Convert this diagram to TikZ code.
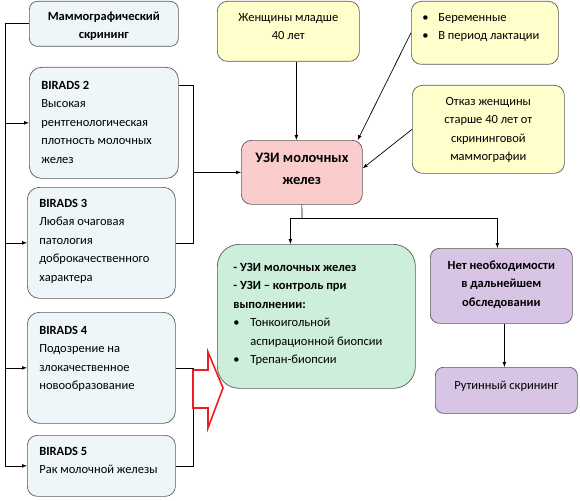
\documentclass[tikz,border=0pt]{standalone}
\usepackage{fontspec}
\setmainfont{Carlito}

\definecolor{screenfill}{RGB}{238,246,249}
\definecolor{womenfill}{RGB}{255,255,204}
\definecolor{uzifill}{RGB}{250,204,204}
\definecolor{biopsyfill}{RGB}{204,238,218}
\definecolor{resultfill}{RGB}{216,196,228}
\definecolor{boxline}{RGB}{90,90,90}
\definecolor{arrowred}{RGB}{235,30,35}

% width, height, top gap, alignment, text
\newcommand{\boxtext}[5]{\parbox[c][#2][t]{#1}{#4\vspace*{#3}\strut #5}}

\tikzset{ every node/.style={draw=boxline, line width=0.7pt, inner ysep=0pt, inner xsep=12pt, anchor=north west, font=\fontsize{12.5}{18.5}\selectfont},
  screenbox/.style={fill=screenfill, rounded corners=12pt},
  womenbox/.style={fill=womenfill, rounded corners=10pt},
  uzibox/.style={fill=uzifill, rounded corners=10pt},
  biopsybox/.style={fill=biopsyfill, rounded corners=22pt},
  resultbox/.style={fill=resultfill, rounded corners=9pt},
  redarrow/.style={draw=arrowred, line width=1.6pt, fill=white} }

\begin{document}
\begin{tikzpicture}[x=1pt, y=-1pt, every edge/.style={draw, -latex, line width=0.7pt}]
        \useasboundingbox (0,0) rectangle (580,500);

        \node[screenbox, rounded corners=8pt] (mammo) at (29,1) {\boxtext{125pt}{45pt}{6pt}{\centering\bfseries}{Маммографический\\скрининг}};
        \node[screenbox] (b2) at (29,67) {\boxtext{125pt}{111pt}{9pt}{\raggedright}{\textbf{BIRADS 2}\\Высокая\\рентгенологическая\\плотность молочных\\желез}};
        \node[screenbox] (b3) at (27,187) {\boxtext{124pt}{111pt}{7pt}{\raggedright}{\textbf{BIRADS 3}\\Любая очаговая\\патология\\доброкачественного\\характера}};
        \node[screenbox] (b4) at (27,312) {\boxtext{124pt}{111pt}{9pt}{\raggedright}{\textbf{BIRADS 4}\\Подозрение на\\злокачественное\\новообразование}};
        \node[screenbox, rounded corners=10pt] (b5) at (27,435) {\boxtext{124pt}{61pt}{7pt}{\raggedright}{\textbf{BIRADS 5}\\Рак молочной железы}};

        \node[womenbox, inner xsep=10pt] (young) at (217,1) {\boxtext{122pt}{60pt}{7pt}{\centering}{Женщины младше\\40 лет}};
        \node[womenbox, inner xsep=11pt] (preg) at (411,1) {\boxtext{125pt}{63pt}{7pt}{\raggedright}{\makebox[16pt][l]{\textbullet}Беременные\\\makebox[16pt][l]{\textbullet}В период лактации}};
        \node[womenbox, inner xsep=10pt] (refuse) at (412,85) {\boxtext{132pt}{88pt}{7pt}{\centering}{Отказ женщины\\старше 40 лет от\\скрининговой\\маммографии}};

        \node[uzibox, inner xsep=8pt] (uzi) at (241,140) {\boxtext{105pt}{64pt}{6.6pt}{\centering\bfseries\fontsize{14.5}{22}\selectfont}{УЗИ молочных\\желез}};

        \node[biopsybox, inner xsep=16pt] (biopsy) at (217,244) {\boxtext{166pt}{144pt}{14pt}{\raggedright}{\textbf{- УЗИ молочных желез}\\\textbf{- УЗИ -- контроль при}\\\textbf{выполнении:}\\\makebox[17pt][l]{\textbullet}Тонкоигольной\\\hspace*{17pt}аспирационной биопсии\\\makebox[17pt][l]{\textbullet}Трепан-биопсии}};
        \node[resultbox, inner xsep=8pt] (nofurther) at (430,248) {\boxtext{126pt}{75pt}{8pt}{\centering\bfseries}{Нет необходимости\\в дальнейшем\\обследовании}};
        \node[resultbox, inner xsep=8pt, rounded corners=8pt] (routine) at (435,367) {\boxtext{126pt}{46pt}{9pt}{\centering}{Рутинный скрининг}};

        \coordinate (bus) at (5,0);
        \coordinate (join) at (193,0);
        \coordinate (split) at (302,218);

        % left bus
        \draw[line width=0.7pt] (mammo.west) -- (mammo.west -| bus) -- (bus |- b5.west);
        \path (bus |- b2.west) edge (b2.west)
              (bus |- b3.west) edge (b3.west)
              (bus |- b4.west) edge (b4.west)
              (bus |- b5.west) edge (b5.west);

        % brackets on the right
        \draw[line width=0.7pt] ([yshift=-18pt]b2.north east) -| (join |- b3.east) -- (b3.east);
        \draw[line width=0.7pt] (b4.east) -| (join |- b5.east) -- (b5.east);
        \path (join |- uzi.west) edge (uzi.west);
        \draw[redarrow] (193,370) -- (208,370) -- (208,352) -- (223,388) -- (208,428) -- (208,408) -- (193,408) -- cycle;

        \path ([xshift=8pt]young.south) edge ([xshift=8pt]young.south |- uzi.north)
              (preg.west) edge ([xshift=-5pt]uzi.north east)
              (refuse.west) edge ([yshift=4pt]uzi.east);

        \draw[line width=0.7pt] (uzi.south) -- (split);
        \draw[-latex, line width=0.7pt] (split) -| ([xshift=-26pt]biopsy.north);
        \draw[-latex, line width=0.7pt] (split) -| ([xshift=-4pt]nofurther.north);
        \path ([xshift=3pt]nofurther.south) edge ([xshift=3pt]nofurther.south |- routine.north);
    \end{tikzpicture}
\end{document}
